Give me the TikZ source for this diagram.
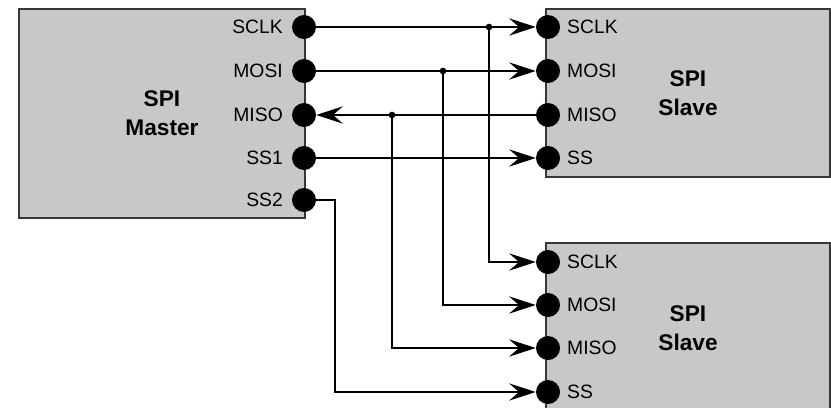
\documentclass[tikz,border=0pt]{standalone}
\usepackage{fontspec}
\setmainfont{Liberation Sans}
\usepackage{tikz}
\usetikzlibrary{arrows.meta, positioning}
\definecolor{boxgray}{RGB}{200,200,200}
\definecolor{edgegray}{RGB}{55,55,55}
\tikzstyle{block} = [font=\fontsize{17}{22}\selectfont\bfseries, rectangle, align=center, draw=edgegray, line width=1pt, fill=boxgray, inner sep=0pt]
\tikzstyle{pin} = [circle, fill=black, minimum size=18pt, inner sep=0pt]
\tikzstyle{junction} = [circle, fill=black, minimum size=5pt, inner sep=0pt]
\tikzstyle{pinlabel} = [font=\fontsize{14.5}{17}\selectfont, inner sep=0pt]
\tikzstyle{wire} = [line width=1pt, black]
\tikzstyle{arrow} = [line width=1pt, black, -{Stealth[length=20pt, width=13pt, inset=7.5pt]}]

\begin{document}
\begin{tikzpicture}[x=0.75pt,y=-0.75pt]
  \useasboundingbox (0,0) rectangle (831,407);
  % boxes
  \node (master) [block, minimum width=214.5pt, minimum height=156.75pt] at (162,113.5) {SPI\\Master};
  \node (slave_a) [block, minimum width=213pt, minimum height=126pt] at (688,93) {SPI\\Slave};
  \node (slave_b) [block, minimum width=213pt, minimum height=127.5pt] at (688,328) {SPI\\Slave};
  % master pins
  \node (m_sclk) [pin] at (304,27) {};
  \node (m_mosi) [pin] at (304,71) {};
  \node (m_miso) [pin] at (304,115) {};
  \node (m_ss1) [pin] at (304,158) {};
  \node (m_ss2) [pin] at (304,200) {};
  \node [pinlabel, left=6.5pt of m_sclk] {SCLK};
  \node [pinlabel, left=6.5pt of m_mosi] {MOSI};
  \node [pinlabel, left=6.5pt of m_miso] {MISO};
  \node [pinlabel, left=6.5pt of m_ss1] {SS1};
  \node [pinlabel, left=6.5pt of m_ss2] {SS2};
  % slave pins
  \node (a_sclk) [pin] at (548,27) {};
  \node (a_mosi) [pin] at (548,71) {};
  \node (a_miso) [pin] at (548,115) {};
  \node (a_ss) [pin] at (548,158) {};
  \node (b_sclk) [pin] at (548,262) {};
  \node (b_mosi) [pin] at (548,305) {};
  \node (b_miso) [pin] at (548,348) {};
  \node (b_ss) [pin] at (548,392) {};
  \foreach \p/\t in {a_sclk/SCLK, a_mosi/MOSI, a_miso/MISO, a_ss/SS,
                     b_sclk/SCLK, b_mosi/MOSI, b_miso/MISO, b_ss/SS}
    \node [pinlabel, right=5pt of \p] {\t};
  % junctions
  \node (j_sclk) [junction] at (489,27) {};
  \node (j_mosi) [junction] at (443,71) {};
  \node (j_miso) [junction] at (392,115) {};
  \coordinate (ss2_bend) at (335,200);
  % wires
  \draw[arrow](m_sclk) -- (a_sclk);
  \draw[arrow](m_mosi) -- (a_mosi);
  \draw[arrow](a_miso) -- (m_miso);
  \draw[arrow](m_ss1) -- (a_ss);
  \draw[arrow](j_sclk.center) |- (b_sclk);
  \draw[arrow](j_mosi.center) |- (b_mosi);
  \draw[arrow](j_miso.center) |- (b_miso);
  \draw[arrow](m_ss2) -- (ss2_bend) |- (b_ss);
\end{tikzpicture}
\end{document}
